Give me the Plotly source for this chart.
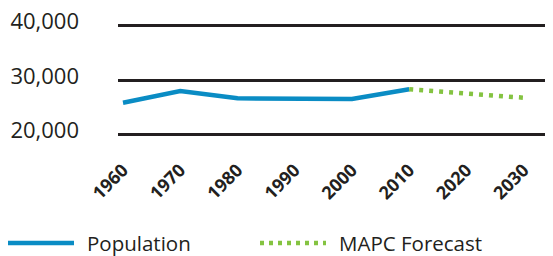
import plotly.graph_objects as go

# Data
years_pop = [1960, 1970, 1980, 1990, 2000, 2010]
population = [25850, 27990, 26650, 26580, 26530, 28300]
years_fc = [2010, 2020, 2030]
forecast = [28300, 27530, 26760]
tick_years = [1960, 1970, 1980, 1990, 2000, 2010, 2020, 2030]
tick_text = [str(y) for y in tick_years]
y_ticks = [20000, 30000, 40000]
y_tick_text = ["20,000", "30,000", "40,000"]

BLUE = "#0a8cc4"
GREEN = "#84c341"
INK = "#231f20"
FONT = "Open Sans"

OFF = 8  # page body margin
W, H = 553 - OFF, 256 - OFF
L, R, T, B = 118 - OFF, 0, 20 - OFF, 116
PW, PH = W - L - R, H - T - B

def px_x(px):
    return (px - OFF - L) / PW

def px_y(py):
    return (H - B - (py - OFF)) / PH

fig = go.Figure()
fig.add_trace(go.Scatter(x=years_pop, y=population, mode="lines",
                         line=dict(color=BLUE, width=4.5), name="Population",
                         showlegend=False))
fig.add_trace(go.Scatter(x=years_fc, y=forecast, mode="lines",
                         line=dict(color=GREEN, width=4.5, dash="4px,6px"),
                         name="MAPC Forecast", showlegend=False))

# Custom legend
shapes = [
    dict(type="line", xref="paper", yref="paper", x0=px_x(8), x1=px_x(74),
         y0=px_y(243), y1=px_y(243), line=dict(color=BLUE, width=4.5)),
    dict(type="line", xref="paper", yref="paper", x0=px_x(260), x1=px_x(326),
         y0=px_y(243), y1=px_y(243), line=dict(color=GREEN, width=4.5, dash="4px,5px")),
]
annotations = [
    dict(text="Population", xref="paper", yref="paper", x=px_x(85), y=px_y(243),
         xanchor="left", yanchor="middle", showarrow=False,
         font=dict(family=FONT, size=20.5, color=INK)),
    dict(text="MAPC Forecast", xref="paper", yref="paper", x=px_x(337), y=px_y(243),
         xanchor="left", yanchor="middle", showarrow=False,
         font=dict(family=FONT, size=20.5, color=INK)),
]

# y: 40000 at screen 25.3, 20000 at screen 134.7
plot_top_s = T + OFF
plot_bot_s = T + PH + OFF
y_top = 40000 + (25.3 - plot_top_s) / 54.7 * 10000
y_bot = 20000 - (plot_bot_s - 134.7) / 54.7 * 10000
# x: 1960 at screen 123, 5.724 px/yr
x0 = 1960 - (123 - (L + OFF)) / 5.724
x1 = 1960 + (553 - 123) / 5.724

fig.update_layout(
    template="none",
    width=W, height=H,
    margin=dict(l=L, r=R, t=T, b=B, pad=0),
    paper_bgcolor="white", plot_bgcolor="white",
    shapes=shapes, annotations=annotations,
    xaxis=dict(range=[x0, x1], tickvals=tick_years, ticktext=tick_text,
               tickangle=-45, showgrid=False, zeroline=False, showline=False,
               ticks="", automargin=False, ticklabelstandoff=15,
               ticklabeloverflow="allow",
               tickfont=dict(family=FONT, size=18, color=INK, weight="bold")),
    yaxis=dict(range=[y_bot, y_top], tickvals=y_ticks, ticktext=y_tick_text,
               showgrid=True, gridcolor=INK, gridwidth=2.5, zeroline=False,
               showline=False, ticks="", automargin=False, ticklabelstandoff=38,
               ticklabelshift=-4, ticklabeloverflow="allow",
               tickfont=dict(family=FONT, size=22, color=INK)),
)

fig.write_html("out.html")
